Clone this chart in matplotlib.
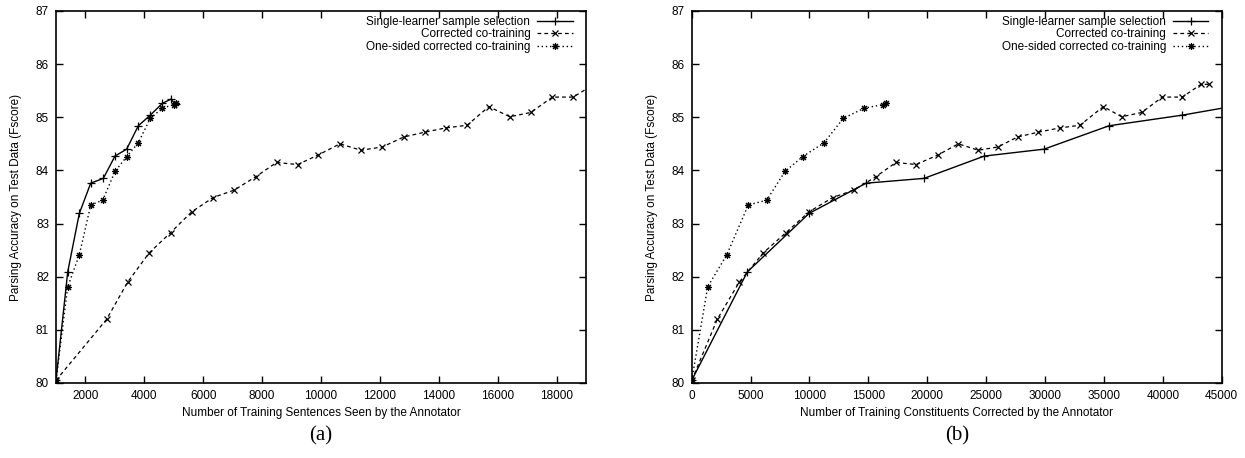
import matplotlib
matplotlib.use('Agg')
import matplotlib.pyplot as plt
from matplotlib.ticker import MultipleLocator

plt.rcParams['font.family'] = ['Liberation Sans', 'DejaVu Sans']

# accuracy values (same runs in both panels, only the x measure differs)
acc_single = [80.05, 82.09, 83.19, 83.76, 83.85, 84.27, 84.40, 84.84, 85.04, 85.26, 85.34, 85.25]
acc_cotrain = [80.05, 81.20, 81.90, 82.45, 82.83, 83.22, 83.49, 83.63, 83.88, 84.15, 84.11, 84.29,
               84.50, 84.38, 84.44, 84.63, 84.72, 84.80, 84.85, 85.20, 85.01, 85.09, 85.38, 85.38,
               85.62, 85.62]
acc_onesided = [80.05, 81.81, 82.41, 83.35, 83.44, 83.98, 84.26, 84.52, 84.98, 85.17, 85.24, 85.26]

# (a) sentences seen by the annotator
sent_single = [1000, 1397, 1791, 2178, 2606, 3003, 3399, 3795, 4202, 4608, 4893, 5060]
sent_cotrain = [1000, 2721, 3434, 4167, 4893, 5606, 6339, 7052, 7779, 8491, 9204, 9903,
                10640, 11353, 12076, 12813, 13526, 14238, 14962, 15698, 16410, 17123, 17860, 18560,
                19280, 20000]
sent_onesided = [1000, 1397, 1791, 2178, 2585, 3003, 3399, 3795, 4202, 4608, 5005, 5073]

# (b) constituents corrected by the annotator
cons_single = [0, 4720, 9959, 14800, 19720, 24843, 29911, 35430, 41652, 47320, 49000, 50000]
cons_cotrain = [0, 2173, 4041, 6079, 8006, 9959, 11970, 13780, 15622, 17345, 19043, 20900,
                22635, 24333, 25979, 27677, 29426, 31270, 32967, 34945, 36507, 38205, 39955, 41652,
                43241, 43920]
cons_onesided = [0, 1358, 2971, 4805, 6368, 7921, 9424, 11232, 12871, 14628, 16270, 16496]

labels = ['Single-learner sample selection', 'Corrected co-training',
          'One-sided corrected co-training']

fig = plt.figure(figsize=(12.45, 4.58), dpi=100)
ax1 = fig.add_axes([0.045, 0.1638, 0.4257, 0.8122])
ax2 = fig.add_axes([0.5556, 0.1638, 0.4257, 0.8122])

star = (8, 2, 0)
panels = [
    (ax1, sent_single, sent_cotrain, sent_onesided, (1000, 19000), 2000,
     'Number of Training Sentences Seen by the Annotator', '(a)'),
    (ax2, cons_single, cons_cotrain, cons_onesided, (0, 45000), 5000,
     'Number of Training Constituents Corrected by the Annotator', '(b)'),
]

for ax, xs, xc, xo, xlim, step, xlabel, tag in panels:
    ax.plot(xs, acc_single, color='black', lw=1.0, ls='-', marker='+', ms=6, mew=0.9,
            label=labels[0])
    ax.plot(xc, acc_cotrain, color='black', lw=0.9, ls=(0, (3, 2.5)), marker='x', ms=5, mew=0.9,
            label=labels[1])
    ax.plot(xo, acc_onesided, color='black', lw=1.0, ls=(0, (1, 2)), marker=star, ms=5, mew=0.8,
            label=labels[2])
    ax.set_xlim(*xlim)
    ax.set_ylim(80, 87)
    ax.xaxis.set_major_locator(MultipleLocator(step))
    ax.yaxis.set_major_locator(MultipleLocator(1))
    ax.tick_params(direction='in', top=True, right=True, length=5, width=1,
                   labelsize=8.5, pad=5)
    for sp in ax.spines.values():
        sp.set_linewidth(1.2)
    ax.set_xlabel(xlabel, fontsize=8.5, labelpad=4)
    ax.set_ylabel('Parsing Accuracy on Test Data (Fscore)', fontsize=8.5, labelpad=10)
    leg = ax.legend(loc='upper right', bbox_to_anchor=(0.975, 0.987), frameon=False,
                    markerfirst=False, fontsize=8.5, handlelength=3.0, handletextpad=0.6,
                    labelspacing=0.05, borderaxespad=0, borderpad=0, numpoints=1)
    ax.text(0.5, -0.115, tag, transform=ax.transAxes, ha='center', va='top',
            fontsize=15, family='Liberation Serif')

fig.savefig('out.png', dpi=100)
